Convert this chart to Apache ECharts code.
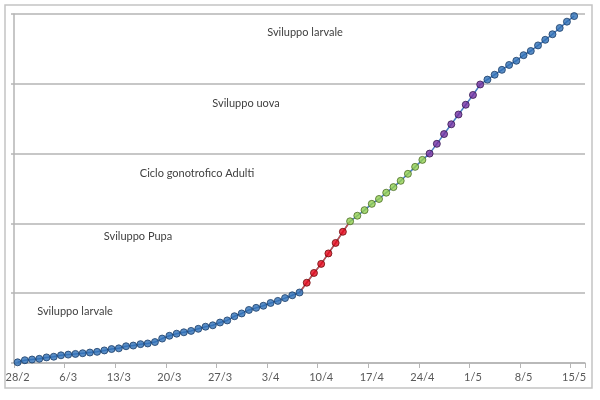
<!DOCTYPE html>
<html>
<head>
<meta charset="utf-8">
<script src="https://cdn.jsdelivr.net/npm/echarts@6/dist/echarts.min.js"></script>
<style>html,body{margin:0;padding:0;background:#fff;}#c{width:600px;height:400px;}</style>
</head>
<body>
<div id="c"></div>
<script>
const categories = ['28/2','29/2',
 '1/3','2/3','3/3','4/3','5/3','6/3','7/3','8/3','9/3','10/3','11/3','12/3','13/3','14/3','15/3','16/3','17/3','18/3','19/3','20/3','21/3','22/3','23/3','24/3','25/3','26/3','27/3','28/3','29/3','30/3','31/3',
 '1/4','2/4','3/4','4/4','5/4','6/4','7/4','8/4','9/4','10/4','11/4','12/4','13/4','14/4','15/4','16/4','17/4','18/4','19/4','20/4','21/4','22/4','23/4','24/4','25/4','26/4','27/4','28/4','29/4','30/4',
 '1/5','2/5','3/5','4/5','5/5','6/5','7/5','8/5','9/5','10/5','11/5','12/5','13/5','14/5','15/5','16/5'];

const values = [0.01,0.04,0.05,0.06,0.08,0.09,0.11,0.12,0.13,0.14,
 0.15,0.16,0.18,0.20,0.21,0.24,0.25,0.27,0.28,0.30,
 0.35,0.39,0.42,0.44,0.46,0.49,0.52,0.54,0.58,0.61,
 0.67,0.71,0.76,0.79,0.82,0.86,0.89,0.93,0.97,1.01,
 1.15,1.29,1.42,1.57,1.72,1.88,
 2.03,2.11,2.19,2.28,2.35,2.44,2.52,2.61,2.71,2.81,2.91,
 3.00,3.14,3.28,3.42,3.56,3.70,3.84,3.99,
 4.06,4.13,4.20,4.27,4.33,4.41,4.47,4.55,4.63,4.71,4.80,4.89,4.97];

// phase of each point, by index ranges (first, last)
const phaseRanges = [
  {name:'red', first:40, last:45},
  {name:'green', first:46, last:56},
  {name:'purple', first:57, last:64}
];
const phaseColors = {
  blue:   {fill:'#2e6fb7', border:'#1c3d66'},
  red:    {fill:'#e3061b', border:'#6e0a0a'},
  green:  {fill:'#92d050', border:'#4a6b26'},
  purple: {fill:'#7431a3', border:'#35164f'}
};
const annotations = [
  {text:'Sviluppo larvale', x:305, y:32},
  {text:'Sviluppo uova', x:246, y:103},
  {text:'Ciclo gonotrofico Adulti', x:197, y:173},
  {text:'Sviluppo Pupa', x:138, y:236},
  {text:'Sviluppo larvale', x:75, y:311}
];

function phaseOf(i){
  for (const r of phaseRanges) if (i>=r.first && i<=r.last) return r.name;
  return 'blue';
}
const markerData = values.map((v,i)=>{
  const c = phaseColors[phaseOf(i)];
  return {value:[i,v], itemStyle:{color:c.fill, borderColor:c.border, borderWidth:1}};
});
const redR = phaseRanges[0];
const redLine = values.map((v,i)=> (i>=redR.first-1 && i<=redR.last+1) ? v : null);

const chart = echarts.init(document.getElementById('c'));
chart.setOption({
  animation:false,
  grid:{left:14, right:15, top:14, bottom:37, containLabel:false},
  xAxis:{
    type:'category', data:categories, boundaryGap:true,
    axisLine:{show:true, lineStyle:{color:'#b5b5b5', width:1.5}},
    axisTick:{show:true, interval:6, length:5, lineStyle:{color:'#b5b5b5', width:1}},
    axisLabel:{interval:6, color:'#595959', fontFamily:'Lato', fontSize:11, margin:9},
    splitLine:{show:false}
  },
  yAxis:{
    type:'value', min:0, max:5, interval:1,
    axisLine:{show:true, lineStyle:{color:'#b5b5b5', width:1.5}},
    axisTick:{show:true, length:3, lineStyle:{color:'#b5b5b5', width:1.5}},
    axisLabel:{show:false},
    splitLine:{show:true, lineStyle:{color:'#b5b5b5', width:1.5}}
  },
  series:[
    {type:'line', data:values, symbol:'none', z:2,
     lineStyle:{color:'#4a7fc1', width:1.5}},
    {type:'line', data:redLine, symbol:'none', z:3, connectNulls:false,
     lineStyle:{color:'#c0504d', width:1.5}},
    {type:'scatter', data:markerData, symbol:'circle', symbolSize:7, z:4}
  ],
  graphic:[
    {type:'rect', shape:{x:5, y:5, width:587, height:383}, silent:true,
     style:{fill:null, stroke:'#c4c4c4', lineWidth:1.5}, z:-1}
  ].concat(annotations.map(a=>({
    type:'text', x:a.x, y:a.y, silent:true,
    style:{text:a.text, fill:'#404040', font:'11px Lato', align:'center', verticalAlign:'middle'}
  })))
});
</script>
</body>
</html>
